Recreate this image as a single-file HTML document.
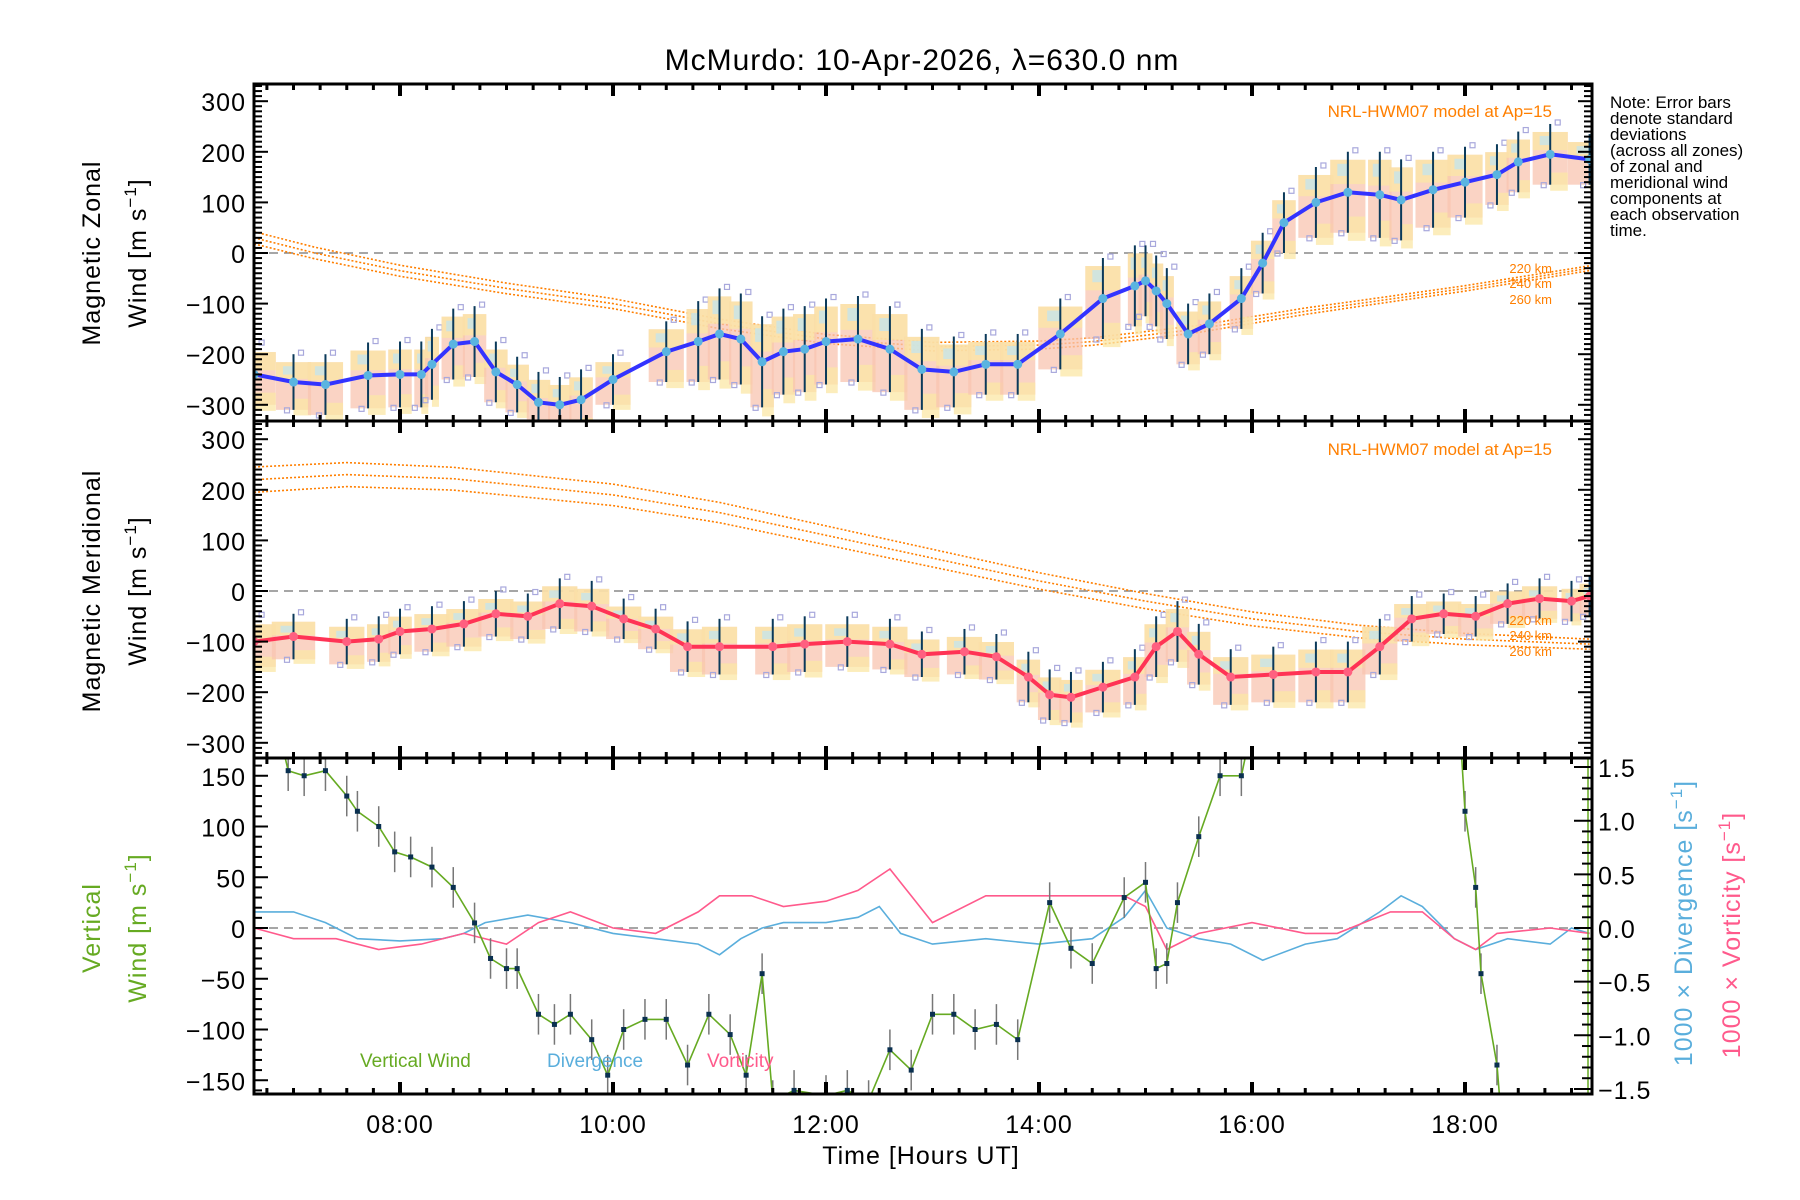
<!DOCTYPE html>
<html><head><meta charset="utf-8"><style>
body{margin:0;background:#fff}
svg{display:block;font-family:"Liberation Sans",sans-serif}
</style></head><body>
<svg id="c" width="1800" height="1200" viewBox="0 0 1800 1200">
<text x="922" y="70" font-size="30" text-anchor="middle" letter-spacing="1">McMurdo: 10-Apr-2026, λ=630.0 nm</text>
<g font-size="17">
<text x="1610" y="108">Note: Error bars</text><text x="1610" y="124">denote standard</text><text x="1610" y="140">deviations</text><text x="1610" y="156">(across all zones)</text><text x="1610" y="172">of zonal and</text><text x="1610" y="188">meridional wind</text><text x="1610" y="204">components at</text><text x="1610" y="220">each observation</text><text x="1610" y="236">time.</text>
</g>
</svg>
<script>
const zonalT=[6.63,7.0,7.3,7.7,8.0,8.2,8.3,8.5,8.7,8.9,9.1,9.3,9.5,9.7,10.0,10.5,10.8,11.0,11.2,11.4,11.6,11.8,12.0,12.3,12.6,12.9,13.2,13.5,13.8,14.2,14.6,14.9,15.0,15.1,15.2,15.4,15.6,15.9,16.1,16.3,16.6,16.9,17.2,17.4,17.7,18.0,18.3,18.5,18.8,19.17];
const zonalV=[-240,-255,-260,-242,-240,-240,-220,-180,-175,-235,-260,-295,-300,-290,-250,-195,-175,-160,-170,-215,-195,-190,-175,-170,-190,-230,-235,-220,-220,-160,-90,-65,-55,-75,-100,-160,-140,-90,-20,60,100,120,115,105,125,140,155,180,195,185];
const zonalSD=[60,55,60,65,65,65,70,70,70,60,55,60,55,60,50,60,80,90,90,90,85,85,85,85,85,80,70,60,60,70,80,80,70,70,70,60,60,60,60,60,70,80,85,80,75,70,60,60,60,50];
const meridT=[6.63,7.0,7.5,7.8,8.0,8.3,8.6,8.9,9.2,9.5,9.8,10.1,10.4,10.7,11.0,11.5,11.8,12.2,12.6,12.9,13.3,13.6,13.9,14.1,14.3,14.6,14.9,15.1,15.3,15.5,15.8,16.2,16.6,16.9,17.2,17.5,17.8,18.1,18.4,18.7,19.0,19.17];
const meridV=[-100,-90,-100,-95,-80,-75,-65,-45,-50,-25,-30,-55,-75,-110,-110,-110,-105,-100,-105,-125,-120,-130,-170,-205,-210,-190,-170,-110,-80,-125,-170,-165,-160,-160,-110,-55,-45,-50,-25,-15,-20,-10];
const meridSD=[50,45,45,45,45,45,45,45,45,50,50,40,40,50,55,55,55,50,50,45,45,45,50,50,50,50,55,60,60,60,55,55,60,60,55,45,40,40,40,40,40,40];
const hwmT=[6.63,7.2,8.0,9.0,10.0,11.0,12.0,13.0,14.0,14.5,15.5,16.5,17.0,18.0,19.17];
const hwmZonal=[30,0,-35,-70,-100,-140,-170,-185,-182,-175,-150,-115,-100,-70,-30];
const hwmMeridT=[6.63,7.5,8.5,10.0,11.0,12.0,13.0,14.0,15.0,16.0,17.0,18.0,19.17];
const hwmMerid=[220,230,222,190,155,110,65,20,-20,-55,-80,-95,-105];
const vertT=[6.85,6.95,7.1,7.3,7.5,7.6,7.8,7.95,8.1,8.3,8.5,8.7,8.85,9.0,9.1,9.3,9.45,9.6,9.8,9.95,10.1,10.3,10.5,10.7,10.9,11.1,11.25,11.4,11.5,11.7,12.0,12.2,12.4,12.6,12.8,13.0,13.2,13.4,13.6,13.8,14.1,14.3,14.5,14.8,15.0,15.1,15.2,15.3,15.5,15.7,15.9,16.0];
const vertV=[200,155,150,155,130,115,100,75,70,60,40,5,-30,-40,-40,-85,-95,-85,-110,-145,-100,-90,-90,-135,-85,-105,-145,-45,-170,-160,-165,-160,-170,-120,-140,-85,-85,-100,-95,-110,25,-20,-35,30,45,-40,-35,25,90,150,150,200];
const vert2T=[17.95,18.0,18.1,18.15,18.3,18.35];
const vert2V=[200,115,40,-45,-135,-200];
const divT=[6.63,7.0,7.3,7.6,8.0,8.4,8.6,8.8,9.2,9.6,10.0,10.4,10.8,11.0,11.2,11.4,11.6,12.0,12.3,12.5,12.7,13.0,13.5,14.0,14.5,14.8,15.0,15.2,15.5,15.8,16.1,16.5,16.8,17.2,17.4,17.6,17.9,18.1,18.4,18.8,19.0,19.17];
const divV=[0.15,0.15,0.05,-0.1,-0.12,-0.1,-0.05,0.05,0.12,0.05,-0.05,-0.1,-0.15,-0.25,-0.1,0.0,0.05,0.05,0.1,0.2,-0.05,-0.15,-0.1,-0.15,-0.1,0.1,0.35,0.0,-0.1,-0.15,-0.3,-0.15,-0.1,0.15,0.3,0.2,-0.1,-0.2,-0.1,-0.15,0.0,-0.05];
const vortT=[6.63,7.0,7.4,7.8,8.2,8.6,9.0,9.3,9.6,10.0,10.4,10.8,11.0,11.3,11.6,12.0,12.3,12.6,12.8,13.0,13.5,14.0,14.5,14.8,15.0,15.2,15.5,16.0,16.5,16.8,17.3,17.6,17.9,18.1,18.3,18.8,19.17];
const vortV=[0.0,-0.1,-0.1,-0.2,-0.15,-0.05,-0.15,0.05,0.15,0.0,-0.05,0.15,0.3,0.3,0.2,0.25,0.35,0.55,0.3,0.05,0.3,0.3,0.3,0.3,0.2,-0.2,-0.05,0.05,-0.05,-0.05,0.15,0.15,-0.1,-0.2,-0.05,0.0,-0.05];
const xTicks=[8,10,12,14,16,18];
const xTickLabels=["08:00","10:00","12:00","14:00","16:00","18:00"];
const yTicksMain=[300,200,100,0,-100,-200,-300];
const yTicksVert=[150,100,50,0,-50,-100,-150];
const yTicksRight=[1.5,1.0,0.5,0.0,-0.5,-1.0,-1.5];

const NS="http://www.w3.org/2000/svg";
const svg=document.getElementById('c');
const L=254,R=1592,H0=6.629,PPH=106.5;
const X=h=>L+(h-H0)*PPH;
const P=[{t:84,b:421,z:253,s:0.506},{t:421,b:758,z:591,s:0.506},{t:758,b:1094,z:928,s:1.015}];
const Y=(p,v)=>P[p].z-v*P[p].s;
const YR=v=>928-v*107.3;
function mk(tag,at,parent){const e=document.createElementNS(NS,tag);for(const k in at)e.setAttribute(k,at[k]);(parent||svg).appendChild(e);return e;}
const defs=mk('defs',{});
P.forEach((p,i)=>{const cp=mk('clipPath',{id:'cp'+i},defs);mk('rect',{x:L,y:p.t,width:R-L,height:p.b-p.t},cp);});
function path(pts){return pts.map((q,i)=>(i?'L':'M')+q[0].toFixed(1)+' '+q[1].toFixed(1)).join('');}

function panel(i){
  const g=mk('g',{'clip-path':'url(#cp'+i+')'});
  
  
  const z=mk('line',{x1:L,x2:R,y1:P[i].z,y2:P[i].z,stroke:'#888','stroke-width':1.5,'stroke-dasharray':'9 6'},g);
  
  
  return g;
}
function errorBars(g,T,V,SD,p){
  T.forEach((t,k)=>{
    const gp=Math.min(k>0?t-T[k-1]:1,k<T.length-1?T[k+1]-t:1);
    const w=Math.max(7,Math.min(22,gp*PPH*0.55));
    const x=X(t),yt=Y(p,V[k]+SD[k]),yb=Y(p,V[k]-SD[k]);
    const s=mk('rect',{x:x-w,y:yt+8,width:2*w,height:yb-yt-8,fill:'#f8c4b0',opacity:0.75},g);
    
    
    const s2=mk('rect',{x:x-w,y:yt+8,width:2*w,height:(yb-yt)*0.3,fill:'#fbe7a6',opacity:0.75},g);
    
    
    const s3=mk('rect',{x:x,y:Y(p,V[k]-SD[k]*0.6),width:w,height:SD[k]*0.6*P[p].s,fill:'#fbe7a6',opacity:0.75},g);
    
    
    const s4=mk('rect',{x:x-w*0.6,y:yt+12,width:w*0.6,height:(yb-yt)*0.15,fill:'#bfe6f2',opacity:0.7},g);
    
    
    const l=mk('line',{x1:x,x2:x,y1:yt,y2:yb,stroke:'#0b3a5a','stroke-width':2},g);
    
    
    const q=mk('rect',{x:x+5,y:yt-4,width:5,height:5,fill:'none',stroke:'#a8a8dc','stroke-width':1.2},g);
    
    
    const q2=mk('rect',{x:x-9,y:yb-2,width:5,height:5,fill:'none',stroke:'#a8a8dc','stroke-width':1.2},g);
    
    
  });
}
function meanLine(g,T,V,p,col,name){
  const l=mk('path',{d:path(T.map((t,k)=>[X(t),Y(p,V[k])])),fill:'none',stroke:col,'stroke-width':4},g);
  
  
  T.forEach((t,k)=>{const c=mk('circle',{cx:X(t),cy:Y(p,V[k]),r:4.5,fill:col==='#3333ff'?'#5ab4e0':'#ff6080'},g);
    
    });
}
function hwm(g,T,V,p,offs){
  offs.forEach((o,j)=>{const l=mk('path',{d:path(T.map((t,k)=>[X(t),Y(p,V[k]+o*(1-0.6*k/(T.length-1)))])),fill:'none',stroke:'#ff7f00','stroke-width':1.6,'stroke-dasharray':'2 2'},g);
    
    });
}
let g0=panel(0);
hwm(g0,hwmT,hwmZonal,0,[-12,0,12]);
errorBars(g0,zonalT,zonalV,zonalSD,0);
meanLine(g0,zonalT,zonalV,0,'#3333ff','zonal-mean-line');
let g1=panel(1);
hwm(g1,hwmMeridT,hwmMerid,1,[-25,0,25]);
errorBars(g1,meridT,meridV,meridSD,1);
meanLine(g1,meridT,meridV,1,'#ff3355','meridional-mean-line');
let g2=panel(2);
const dl=mk('path',{d:path(divT.map((t,k)=>[X(t),YR(divV[k])])),fill:'none',stroke:'#5aaedc','stroke-width':1.6},g2);


const vl=mk('path',{d:path(vortT.map((t,k)=>[X(t),YR(vortV[k])])),fill:'none',stroke:'#ff5a8c','stroke-width':1.6},g2);


[[vertT,vertV],[vert2T,vert2V]].forEach(([T,V])=>{
  T.forEach((t,k)=>{const e=mk('line',{x1:X(t),x2:X(t),y1:Y(2,V[k]+20),y2:Y(2,V[k]-20),stroke:'#777','stroke-width':1.5},g2);
    
    });
  const l=mk('path',{d:path(T.map((t,k)=>[X(t),Y(2,V[k])])),fill:'none',stroke:'#66aa22','stroke-width':1.6},g2);
  
  
  T.forEach((t,k)=>{const c=mk('rect',{x:X(t)-2.5,y:Y(2,V[k])-2.5,width:5,height:5,fill:'#0a3050'},g2);
    
    });
});
const edge=mk('line',{x1:R-4,x2:R-4,y1:758,y2:1094,stroke:'#66aa22','stroke-width':1.5},g2);



P.forEach((p,i)=>{
  const f=mk('rect',{x:L,y:p.t,width:R-L,height:p.b-p.t,fill:'none',stroke:'#000','stroke-width':3});
  
  
  for(let h=6.75;h<H0+(R-L)/PPH;h+=0.25){
    const maj=Math.abs(h-Math.round(h/2)*2)<1e-6;const len=maj?12:6;
    const a=mk('line',{x1:X(h),x2:X(h),y1:p.b,y2:p.b-len,stroke:'#000','stroke-width':maj?4:3});
    
    const b=mk('line',{x1:X(h),x2:X(h),y1:p.t,y2:p.t+len,stroke:'#000','stroke-width':maj?4:3});
    
  }
  const ticks=i<2?yTicksMain:yTicksVert;const minorStep=10;const majStep=i<2?100:50;
  for(let v=-400;v<=400;v+=minorStep){const y=Y(i,v);if(y<p.t+2||y>p.b-2)continue;
    const maj=v%majStep===0;const len=maj?14:8;
    const a=mk('line',{x1:L,x2:L+len,y1:y,y2:y,stroke:'#000','stroke-width':2});
    
    if(i<2){const b=mk('line',{x1:R,x2:R-len,y1:y,y2:y,stroke:'#000','stroke-width':2});
      }
  }
  ticks.forEach(v=>{const t=mk('text',{x:L-8,y:Y(i,v)+10,'font-size':25,'text-anchor':'end','letter-spacing':1});
    t.textContent=(v<0?'\u2212':'')+Math.abs(v);
    });
});
for(let v=-1.6;v<=1.61;v+=0.1){const y=YR(v);if(y<760||y>1092)continue;
  const maj=Math.abs(v*2-Math.round(v*2))<1e-6;const len=maj?18:10;
  const a=mk('line',{x1:R,x2:R-len,y1:y,y2:y,stroke:'#000','stroke-width':2});
  }
yTicksRight.forEach(v=>{const t=mk('text',{x:R+6,y:YR(v)+10,'font-size':25,'letter-spacing':1});
  t.textContent=(v<0?'\u2212':'')+Math.abs(v).toFixed(1);
  });
xTicks.forEach((h,k)=>{const t=mk('text',{x:X(h),y:1133,'font-size':25,'text-anchor':'middle','letter-spacing':1});
  t.textContent=xTickLabels[k];
  });
function rtext(x,y,str,col,name,size){const t=mk('text',{x:x,y:y,'font-size':size||25,'text-anchor':'middle',fill:col,transform:`rotate(-90 ${x} ${y})`,'letter-spacing':1});
  t.innerHTML=str;}
rtext(100,253,'Magnetic Zonal','#000','zonal-axis-title');
rtext(146,253,'Wind [m s<tspan dy="-10" font-size="17">−1</tspan><tspan dy="10">]</tspan>','#000','zonal-axis-units');
rtext(100,591,'Magnetic Meridional','#000','meridional-axis-title');
rtext(146,591,'Wind [m s<tspan dy="-10" font-size="17">−1</tspan><tspan dy="10">]</tspan>','#000','meridional-axis-units');
rtext(100,928,'Vertical','#66aa22','vertical-axis-title');
rtext(146,928,'Wind [m s<tspan dy="-10" font-size="17">−1</tspan><tspan dy="10">]</tspan>','#66aa22','vertical-axis-units');
rtext(1692,923,'1000 × Divergence [s<tspan dy="-10" font-size="17">−1</tspan><tspan dy="10">]</tspan>','#5aaedc','divergence-axis-title');
rtext(1740,935,'1000 × Vorticity [s<tspan dy="-10" font-size="17">−1</tspan><tspan dy="10">]</tspan>','#ff5a8c','vorticity-axis-title');
const xt=mk('text',{x:921,y:1164,'font-size':25,'text-anchor':'middle','letter-spacing':1});xt.textContent='Time [Hours UT]';

[['NRL-HWM07 model at Ap=15',1552,117],['NRL-HWM07 model at Ap=15',1552,455]].forEach(([s,x,y])=>{
  const t=mk('text',{x:x,y:y,'font-size':17,'text-anchor':'end',fill:'#ff7f00'});t.textContent=s;
  });
[[273,'220 km'],[288,'240 km'],[304,'260 km'],[625,'220 km'],[640,'240 km'],[656,'260 km']].forEach(([y,s])=>{
  const t=mk('text',{x:1552,y:y,'font-size':13,'text-anchor':'end',fill:'#ff7f00'});t.textContent=s;
  });
[['Vertical Wind',360,'#66aa22'],['Divergence',547,'#5aaedc'],['Vorticity',707,'#ff5a8c']].forEach(([s,x,c])=>{
  const t=mk('text',{x:x,y:1067,'font-size':19,fill:c});t.textContent=s;
  });
</script>
</body></html>
